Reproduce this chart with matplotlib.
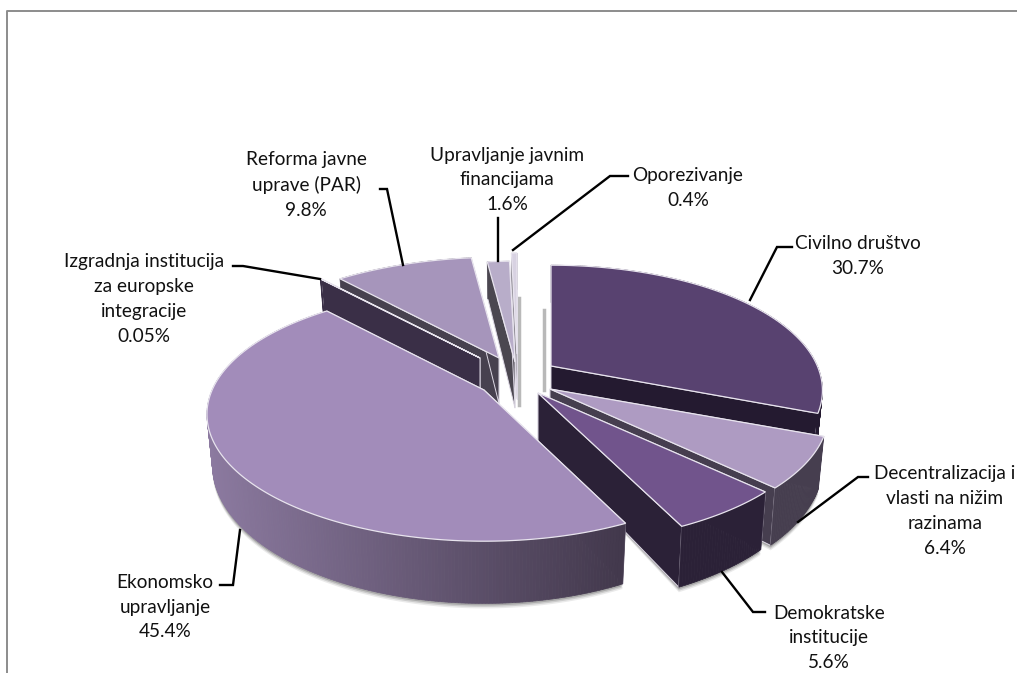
import matplotlib
matplotlib.use('Agg')
import matplotlib.pyplot as plt
import numpy as np
from matplotlib.colors import to_rgb

plt.rcParams['font.family'] = ['Lato', 'DejaVu Sans']

labels = ['Civilno društvo', 'Decentralizacija i\nvlasti na nižim\nrazinama',
          'Demokratske\ninstitucije', 'Ekonomsko\nupravljanje',
          'Izgradnja institucija\nza europske\nintegracije',
          'Reforma javne\nuprave (PAR)', 'Upravljanje javnim\nfinancijama', 'Oporezivanje']
values = [30.7, 6.4, 5.6, 45.4, 0.05, 9.8, 1.6, 0.4]

# look of the slices
top_colors = ['#584270', '#ae9bc2', '#71548c', '#a28cba', '#a28cba', '#a695bb', '#b8adc9', '#d8d2e2']
wall_colors = ['#241a30', '#463e4f', '#2b2137', '#3a2f47', '#3a2f47', '#47414f', '#4b4750', '#8f8c94']
tips = [(551, 366), (550, 389), (538, 393), (484, 390), (480, 358), (499, 358), (515, 362), (517, 354)]
radius = [0.965, 0.99, 1, 0.985, 1, 1, 1, 1]
draw_order = [7, 6, 5, 4, 0, 1, 2, 3]

# label position, leader line
label_xy = [(858, 256), (945, 511), (829, 638), (165, 607), (144, 299), (306, 185), (507, 180), (688, 188)]
leaders = [[(792, 247), (777, 247), (750, 300)],
           [(868, 477), (858, 477), (798, 522)],
           [(765, 612), (753, 612), (722, 572)],
           [(220, 585), (233, 585), (240, 530)],
           [(233, 266), (243, 266), (320, 279)],
           [(380, 189), (387, 189), (403, 265)],
           [(498, 218), (498, 261)],
           [(628, 176), (610, 176), (513, 250)]]

RX, RY = 276, 126


def rim(tip, theta, r):
    u, v = np.sin(theta), np.cos(theta)
    s = 1 - 0.2 * v
    return tip[0] + RX * r * u * s, tip[1] - RY * v * s


def depth(y):
    return 37 + (y - 261) * 0.09


def lower(tip, x, y):
    return tip[0] + (x - tip[0]) * 0.98, y + depth(y)


fig = plt.figure(figsize=(10.17, 6.73), dpi=100)
ax = fig.add_axes([0, 0, 1, 1])
ax.set_xlim(0, 1017)
ax.set_ylim(673, 0)
ax.axis('off')

ax.plot([7, 7, 1017], [673, 11, 11], color='#8c8c8c', lw=1.4, zorder=1)

edges = np.cumsum([0] + values) / sum(values) * 2 * np.pi
# the order of the slices sets which hides which
z = 2
for i in draw_order:
    tip = tips[i]
    th = np.linspace(edges[i], edges[i + 1], max(3, int(values[i] * 6)))
    xt, yt = rim(tip, th, radius[i])
    xb, yb = lower(tip, xt, yt)
    tx, ty = lower(tip, np.array(tip[0]), np.array(tip[1]))

    # soft grey shadow below the outer wall
    if i in (0, 1, 2, 3):
        for off, al in ((5, 0.12), (3.5, 0.2), (2, 0.3)):
            ax.fill(list(xb) + [tx], list(yb + off) + [ty], color='#555555', alpha=al, lw=0, zorder=z)
    if i in (0, 7):
        ax.plot([tip[0] + (-7 if i == 0 else 2)] * 2, [310 if i == 0 else 298, 390 if i == 0 else 405],
                color='#a8a8a8', lw=2.5, alpha=0.8, zorder=z)

    for k in (0, -1):
        ax.fill([tip[0], xt[k], xb[k], tx], [tip[1], yt[k], yb[k], ty], fc=wall_colors[i],
                ec='#ddd8e4', lw=0.7, zorder=z + 0.1)

    # outer wall, big slice has a shaded sweep from left to right
    light = np.array(to_rgb('#8c7aa0'))
    dark = np.array(to_rgb('#43394d'))
    for k in range(len(th) - 1):
        if i == 3:
            f = np.clip((xt[k] - 205) / (620 - 205), 0, 1)
            c = light * (1 - f) + dark * f
        else:
            c = wall_colors[i]
        ax.fill([xt[k], xt[k + 1], xb[k + 1], xb[k]], [yt[k], yt[k + 1], yb[k + 1], yb[k]],
                fc=c, ec=c, lw=0.5, zorder=z + 0.2)

    ax.fill([tip[0]] + list(xt), [tip[1]] + list(yt), fc=top_colors[i], ec='#e8e4ee', lw=0.9, zorder=z + 0.3)
    z += 1

for i in range(len(values)):
    xs, ys = zip(*leaders[i])
    ax.plot(xs, ys, color='black', lw=1.7, solid_joinstyle='miter', zorder=30)
    ax.text(label_xy[i][0], label_xy[i][1], f'{labels[i]}\n{values[i]}%', ha='center', va='center',
            fontsize=13.7, color='#111111', linespacing=1.55, zorder=31)

fig.savefig('out.png', dpi=100)
